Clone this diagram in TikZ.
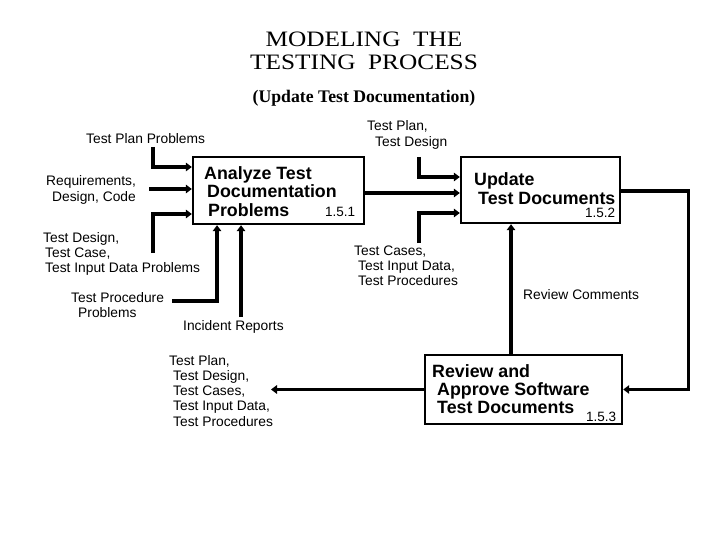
\documentclass[tikz,border=0pt]{standalone}
\usepackage{fontspec}
\setmainfont{Liberation Sans}
\newfontfamily\titleserif[FakeStretch=1.15]{Liberation Serif}
\newfontfamily\subserif{Liberation Serif}
\usetikzlibrary{arrows.meta}
\tikzset{
  lbl/.style={font=\fontsize{13.8}{15.25}\selectfont, anchor=base west, inner sep=0pt},
  boxtxt/.style={font=\bfseries\fontsize{17.8}{18}\selectfont, anchor=base west, inner sep=0pt},
  num/.style={font=\fontsize{13.5}{15}\selectfont, anchor=base west, inner sep=0pt},
  ttl/.style={font=\titleserif\fontsize{22}{24}\selectfont, anchor=base, inner sep=0pt},
  subttl/.style={font=\subserif\bfseries\fontsize{17.7}{20}\selectfont, anchor=base, inner sep=0pt},
  procbox/.style={draw, line width=2.4pt, inner sep=0pt},
  flow/.style={line width=3.2pt, -{Triangle[length=6pt,width=8.5pt]}},
}
\begin{document}
\begin{tikzpicture}[x=1pt,y=-1pt]
\useasboundingbox (0,0) rectangle (720,540);
\fill[white] (0,0) rectangle (720,540);

% title
\node[ttl] (t1) at (364,47) {MODELING\ \ THE};
\node[ttl] (t2) at (364,70) {TESTING\ \ PROCESS};
\node[subttl] (t3) at (364,103) {(Update Test Documentation)};

% process boxes
\node[procbox, minimum width=171pt, minimum height=67pt] (b1) at (278.5,190.5) {};
\node[procbox, minimum width=159pt, minimum height=66pt] (b2) at (540.5,190) {};
\node[procbox, minimum width=197pt, minimum height=69pt] (b3) at (523.5,389.5) {};

\node[boxtxt] (b1t) at (204,180) {\vtop{\hbox{Analyze Test}\hbox{\hspace*{3pt}Documentation}\hbox{\hspace*{4pt}Problems}}};
\node[num] (b1n) at (325,217) {1.5.1};
\node[boxtxt] (b2t) at (474,186) {\vtop{\hbox{Update}\hbox{\hspace*{4pt}Test Documents}}};
\node[num] (b2n) at (585,218) {1.5.2};
\node[boxtxt] (b3t) at (432,377) {\vtop{\hbox{Review and}\hbox{\hspace*{5pt}Approve Software}\hbox{\hspace*{5pt}Test Documents}}};
\node[num] (b3n) at (586,421) {1.5.3};

% labels
\node[lbl] (ltpp) at (86,144) {Test Plan Problems};
\node[lbl] (lreq) at (46,186) {\vtop{\hbox{Requirements,}\hbox{\hspace*{6pt}Design, Code}}};
\node[lbl] (ltd) at (43,242) {\vtop{\hbox{Test Design,}\hbox{\hspace*{2pt}Test Case,}\hbox{\hspace*{2pt}Test Input Data Problems}}};
\node[lbl] (ltproc) at (71,302) {\vtop{\hbox{Test Procedure}\hbox{\hspace*{7pt}Problems}}};
\node[lbl] (lir) at (183,330) {Incident Reports};
\node[lbl] (ltptd) at (367,131) {\vtop{\hbox{Test Plan,}\hbox{\hspace*{8pt}Test Design}}};
\node[lbl] (ltc) at (354,255) {\vtop{\hbox{Test Cases,}\hbox{\hspace*{4pt}Test Input Data,}\hbox{\hspace*{4pt}Test Procedures}}};
\node[lbl] (lrc) at (523,299) {Review Comments};
\node[lbl] (lout) at (169,365) {\vtop{\hbox{Test Plan,}\hbox{\hspace*{4pt}Test Design,}\hbox{\hspace*{4pt}Test Cases,}\hbox{\hspace*{4pt}Test Input Data,}\hbox{\hspace*{4pt}Test Procedures}}};

% free ends
\coordinate (stpp) at (153,147);
\coordinate (sreq) at (149,189);
\coordinate (std) at (153,253);
\coordinate (stproc) at (172,301);
\coordinate (sir) at (241,317);
\coordinate (stptd) at (419,157);
\coordinate (stc) at (419,243);
\coordinate (eout) at (271,389);

% connectors
\draw[flow] (stpp) |- ([yshift=23.5pt]b1.west);
\draw[flow] (sreq) -- (sreq -| b1.west);
\draw[flow] (std) |- ([yshift=-23.5pt]b1.west);
\draw[flow] (stproc) -| ([xshift=-61.5pt]b1.south);
\draw[flow] (sir) -- (sir |- b1.south);
\draw[flow] ([yshift=-2.5pt]b1.east) -- ([yshift=-2.5pt]b1.east -| b2.west);
\draw[flow] (stptd) |- ([yshift=13pt]b2.west);
\draw[flow] (stc) |- ([yshift=-23pt]b2.west);
\draw[flow] ([xshift=-12.5pt]b3.north) -- ([xshift=-12.5pt]b3.north |- b2.south);
\draw[flow] ([yshift=-1pt]b2.east) -- ++(67,0) |- (b3.east);
\draw[flow] (b3.west) -- (b3.west -| eout);
\end{tikzpicture}
\end{document}
